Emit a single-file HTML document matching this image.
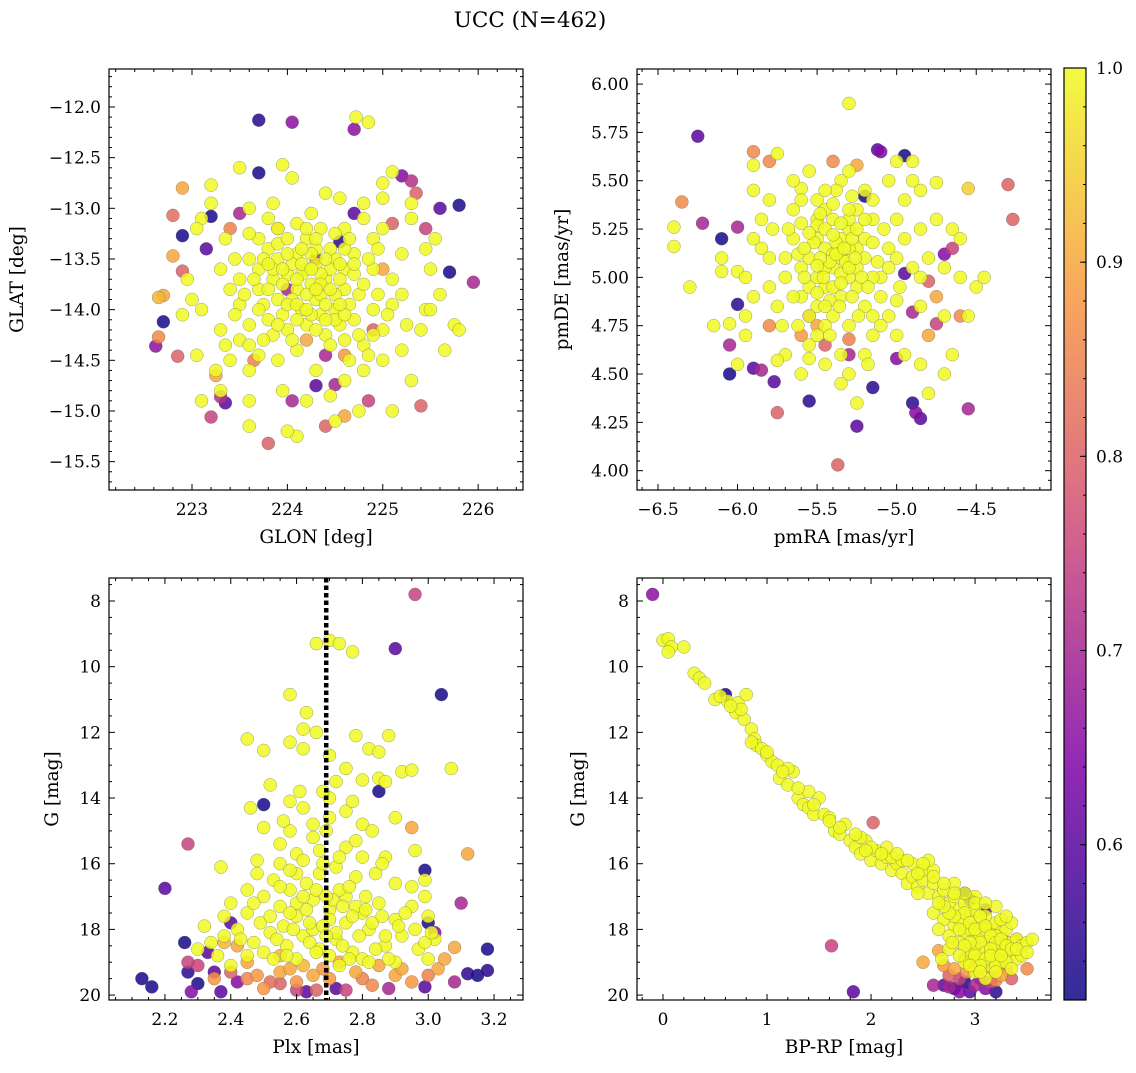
<!DOCTYPE html>
<html><head><meta charset="utf-8">
<style>
body{margin:0;background:#fff;}
svg text{font-family:"DejaVu Serif","Liberation Serif",serif;fill:#000;}
</style></head>
<body>
<svg id="fig" width="1136" height="1068" viewBox="0 0 1136 1068" xmlns="http://www.w3.org/2000/svg">
<text x="530" y="27" font-size="21.5" text-anchor="middle">UCC (N=462)</text>
</svg>
<script>
// ---- Data ----
const skyMembers = [[223.5,-12.6],[223.95,-12.57],[224.05,-12.7],[224.4,-12.85],[224.55,-12.9],[225.0,-12.9],[225.1,-12.64],[225.3,-12.95],[223.2,-12.77],[223.2,-12.95],[223.1,-13.1],[223.05,-13.2],[223.35,-13.3],[223.6,-13.0],[223.8,-13.1],[223.9,-13.2],[224.1,-13.15],[224.25,-13.05],[224.35,-13.2],[224.6,-13.2],[224.8,-13.1],[224.9,-13.3],[225.0,-13.2],[225.2,-13.45],[225.45,-13.4],[225.5,-13.6],[225.6,-13.85],[225.45,-14.0],[225.75,-14.15],[225.4,-14.2],[225.2,-14.4],[225.0,-14.5],[224.8,-14.6],[224.6,-14.7],[224.3,-14.6],[224.1,-14.4],[223.9,-14.5],[223.7,-14.45],[223.5,-14.3],[223.3,-14.2],[223.1,-14.0],[223.0,-13.9],[222.95,-13.7],[223.3,-13.6],[223.5,-13.7],[223.7,-13.6],[223.9,-13.5],[224.1,-13.45],[224.3,-13.4],[224.5,-13.5],[224.7,-13.45],[224.9,-13.6],[225.1,-13.7],[225.1,-13.95],[224.9,-14.0],[224.7,-14.1],[224.5,-14.0],[224.3,-13.9],[224.1,-13.8],[223.9,-13.9],[223.7,-13.8],[223.5,-13.95],[223.6,-14.15],[223.8,-14.1],[224.0,-14.2],[224.2,-14.15],[224.4,-14.25],[224.6,-14.3],[224.8,-14.35],[225.0,-14.2],[224.2,-13.6],[224.4,-13.7],[224.6,-13.8],[224.0,-13.65],[223.8,-13.4],[224.2,-13.3],[224.45,-13.6],[224.25,-13.75],[224.15,-14.0],[224.35,-14.05],[223.95,-14.05],[224.55,-14.15],[224.75,-13.85],[223.4,-14.5],[223.6,-14.6],[223.3,-14.8],[223.1,-14.9],[223.6,-14.9],[223.95,-14.8],[224.2,-14.9],[224.5,-15.1],[224.75,-15.0],[224.1,-15.25],[223.6,-15.15],[224.0,-15.2],[225.1,-15.0],[225.5,-14.0],[225.3,-14.7],[225.65,-14.4],[225.8,-14.2],[222.9,-14.05],[223.05,-14.45],[223.25,-14.6],[225.3,-13.1],[225.0,-12.75],[224.85,-12.15],[224.72,-12.1],[225.55,-13.3],[224.45,-14.85],[224.65,-14.5],[223.85,-12.95],[224.3,-13.55],[224.05,-13.55],[223.85,-13.7],[224.35,-13.85],[224.6,-13.6],[223.75,-13.95],[224.15,-13.65],[224.5,-13.85]];
const skyCore = [[223.85,-13.6],[223.95,-13.75],[224.05,-13.9],[224.15,-13.55],[224.25,-13.45],[224.35,-13.65],[224.45,-13.4],[224.55,-13.7],[224.65,-13.95],[224.1,-14.1],[224.0,-13.45],[223.9,-13.35],[223.8,-13.8],[223.7,-14.0],[223.75,-13.5],[224.3,-14.2],[224.4,-13.95],[224.5,-14.1],[224.2,-13.85],[224.1,-13.7],[224.0,-13.95],[224.3,-13.3],[224.4,-13.5],[224.6,-13.4],[224.7,-13.65],[224.8,-13.75],[224.85,-13.5],[223.65,-13.7],[223.6,-13.5],[223.55,-13.85],[224.25,-14.05],[224.45,-14.35],[224.05,-14.3],[223.85,-14.25],[223.75,-14.3],[224.55,-13.55],[224.35,-13.75],[224.15,-13.4],[223.95,-13.6],[224.25,-13.6],[224.45,-13.8],[224.65,-13.3],[224.95,-13.85],[225.05,-14.05],[224.9,-14.25],[224.75,-14.25],[224.2,-13.2],[224.0,-13.3],[223.7,-13.3],[223.6,-13.25],[224.5,-13.25],[224.6,-14.05],[224.4,-14.1],[223.9,-14.15],[223.8,-13.55],[224.1,-13.95],[224.3,-13.8],[224.55,-13.95],[224.7,-13.55],[224.2,-14.0],[223.4,-13.8],[223.45,-14.05],[223.35,-14.35],[225.2,-13.85],[225.25,-14.15],[224.95,-13.4],[224.8,-12.95],[223.6,-14.35],[223.45,-13.5],[224.85,-14.45]];
const skyField = [[223.7,-12.13,0.55],[224.05,-12.15,0.66],[224.7,-12.22,0.66],[222.9,-12.8,0.9],[223.2,-13.08,0.53],[222.8,-13.07,0.82],[222.9,-13.27,0.53],[223.15,-13.4,0.6],[222.8,-13.47,0.9],[222.9,-13.62,0.8],[222.65,-13.88,0.92],[222.7,-13.86,0.9],[222.7,-14.12,0.53],[222.65,-14.27,0.86],[222.62,-14.36,0.66],[222.85,-14.46,0.8],[223.25,-14.65,0.9],[223.3,-14.86,0.72],[223.35,-14.92,0.6],[223.2,-15.06,0.75],[223.8,-15.32,0.8],[223.7,-12.65,0.53],[224.55,-13.33,0.55],[224.0,-13.8,0.7],[225.2,-12.68,0.65],[225.3,-12.73,0.72],[225.35,-12.85,0.8],[225.6,-13.0,0.6],[225.8,-12.97,0.53],[225.7,-13.63,0.53],[225.95,-13.73,0.7],[225.45,-13.2,0.75],[225.1,-13.15,0.8],[224.5,-14.74,0.7],[224.3,-14.75,0.6],[224.85,-14.9,0.75],[224.6,-15.05,0.9],[224.4,-15.15,0.8],[225.4,-14.95,0.8],[224.05,-14.9,0.7],[224.7,-13.05,0.6],[224.3,-13.5,0.7],[223.5,-13.05,0.7],[224.9,-14.2,0.8],[224.4,-14.45,0.7],[223.4,-13.2,0.85],[224.2,-14.3,0.9],[223.9,-13.2,0.9],[224.6,-14.45,0.88],[223.65,-14.5,0.85],[225.0,-13.6,0.9]];

const pmMembers = [[-6.4,5.26],[-6.4,5.16],[-6.1,5.03],[-6.1,5.1],[-6.0,5.03],[-6.05,4.76],[-5.95,4.7],[-5.9,4.9],[-5.95,4.8],[-5.85,5.15],[-5.85,5.3],[-5.9,5.45],[-5.8,5.4],[-5.75,5.64],[-5.9,5.58],[-5.6,5.46],[-5.5,5.4],[-5.45,5.35],[-5.4,5.3],[-5.35,5.2],[-5.3,5.25],[-5.25,5.15],[-5.2,5.1],[-5.15,5.3],[-5.1,5.0],[-5.05,5.15],[-5.0,5.1],[-5.0,5.3],[-4.95,5.4],[-4.9,5.6],[-4.85,5.45],[-4.85,5.25],[-4.8,5.1],[-4.75,5.3],[-4.7,5.05],[-4.65,5.25],[-4.6,5.0],[-4.5,4.95],[-4.45,5.0],[-4.6,5.2],[-4.75,5.49],[-4.9,5.5],[-5.05,5.5],[-5.6,5.05],[-5.55,5.1],[-5.5,5.0],[-5.45,4.95],[-5.4,5.05],[-5.35,4.9],[-5.3,5.0],[-5.25,4.95],[-5.6,4.9],[-5.65,5.2],[-5.7,5.0],[-5.75,4.85],[-5.8,5.1],[-5.5,5.2],[-5.45,5.15],[-5.35,5.1],[-5.3,5.15],[-5.25,5.05],[-5.4,4.8],[-5.45,4.75],[-5.3,4.75],[-5.2,4.85],[-5.15,4.8],[-5.1,4.9],[-5.5,4.85],[-5.55,4.65],[-5.7,4.6],[-5.6,4.5],[-5.45,4.55],[-5.3,4.5],[-5.2,4.6],[-5.0,4.7],[-4.95,4.6],[-4.85,4.55],[-4.7,4.5],[-4.65,4.6],[-4.8,4.4],[-5.75,4.57],[-6.0,4.55],[-6.15,4.75],[-6.3,4.95],[-5.55,5.55],[-5.35,5.5],[-5.2,5.45],[-5.0,5.6],[-4.95,5.2],[-4.7,4.8],[-5.05,4.8],[-5.15,4.7],[-5.35,4.45],[-5.25,4.35],[-5.35,4.6],[-5.5,5.3],[-5.65,5.35],[-5.6,5.28],[-5.5,5.27],[-5.25,5.35],[-5.15,5.0],[-5.45,5.05],[-5.3,5.3],[-4.55,4.8],[-4.85,4.85],[-5.3,5.9],[-5.4,5.12],[-5.35,5.02],[-5.55,4.95],[-5.2,5.2],[-5.4,4.95]];
const pmCore = [[-5.42,5.08],[-5.38,5.18],[-5.32,5.08],[-5.28,5.2],[-5.48,5.1],[-5.52,5.18],[-5.45,5.25],[-5.35,5.28],[-5.4,5.38],[-5.3,5.35],[-5.25,5.25],[-5.2,5.3],[-5.22,5.0],[-5.28,4.9],[-5.35,4.97],[-5.42,4.88],[-5.5,4.92],[-5.58,5.0],[-5.62,5.12],[-5.55,5.23],[-5.48,5.33],[-5.38,5.45],[-5.28,5.42],[-5.15,5.18],[-5.12,5.08],[-5.18,4.95],[-5.45,4.85],[-5.55,4.8],[-5.65,4.9],[-5.7,5.1],[-5.68,5.25],[-5.6,5.4],[-5.45,5.45],[-5.3,5.05],[-5.38,5.12],[-5.46,5.0],[-5.33,5.15],[-5.26,5.1],[-5.4,5.22],[-5.5,5.06],[-5.58,5.15],[-5.36,4.85],[-5.24,4.8],[-5.1,4.75],[-5.62,4.75],[-5.72,4.75],[-5.8,4.95],[-5.05,5.05],[-4.98,4.95],[-5.08,5.25],[-5.15,5.4],[-5.3,5.55],[-5.65,5.5],[-5.78,5.25],[-5.9,5.2],[-5.95,5.0],[-4.9,5.05],[-4.85,5.0],[-5.0,4.88],[-5.42,4.7],[-5.5,4.7],[-5.18,4.55],[-5.55,4.58]];
const pmField = [[-6.25,5.73,0.6],[-6.35,5.39,0.86],[-6.22,5.28,0.7],[-6.0,5.26,0.7],[-6.1,5.2,0.53],[-5.9,5.65,0.86],[-5.8,5.6,0.86],[-5.4,5.6,0.86],[-5.25,5.58,0.9],[-5.1,5.65,0.65],[-5.12,5.66,0.6],[-4.95,5.63,0.53],[-4.3,5.48,0.8],[-4.27,5.3,0.8],[-4.55,5.46,0.95],[-6.0,4.86,0.55],[-6.05,4.65,0.7],[-6.05,4.5,0.53],[-5.85,4.52,0.7],[-5.9,4.53,0.6],[-5.77,4.46,0.6],[-5.75,4.3,0.8],[-5.55,4.36,0.55],[-5.37,4.03,0.8],[-5.25,4.23,0.6],[-5.15,4.43,0.55],[-5.0,4.58,0.65],[-4.9,4.35,0.55],[-4.88,4.3,0.65],[-4.85,4.27,0.6],[-4.55,4.32,0.7],[-5.2,5.42,0.53],[-5.55,4.8,0.8],[-5.3,4.6,0.7],[-4.9,4.82,0.7],[-4.75,4.76,0.75],[-4.6,4.8,0.86],[-4.8,4.7,0.9],[-4.8,4.98,0.8],[-4.95,5.02,0.6],[-4.65,5.15,0.75],[-4.7,5.12,0.65],[-4.75,4.9,0.9],[-5.8,4.75,0.86],[-5.45,4.65,0.8],[-5.5,4.75,0.9],[-5.6,4.7,0.88],[-5.3,4.68,0.85]];

const plxMembers = [[2.66,9.3],[2.7,9.2],[2.73,9.3],[2.77,9.55],[2.58,10.85],[2.63,11.4],[2.62,11.9],[2.66,12.0],[2.62,12.5],[2.58,12.3],[2.45,12.2],[2.5,12.55],[2.78,12.1],[2.82,12.5],[2.85,12.6],[2.88,12.1],[2.75,13.1],[2.72,13.5],[2.8,13.45],[2.85,13.4],[2.87,13.5],[2.92,13.2],[2.95,13.15],[3.07,13.1],[2.52,13.6],[2.46,14.3],[2.58,14.1],[2.62,14.3],[2.7,14.0],[2.75,14.4],[2.8,14.8],[2.83,15.0],[2.9,14.6],[2.5,14.9],[2.55,15.4],[2.6,15.7],[2.65,15.2],[2.69,15.0],[2.75,15.5],[2.8,15.8],[2.87,15.8],[2.96,15.6],[2.37,16.1],[2.48,16.3],[2.53,16.5],[2.58,16.8],[2.63,16.6],[2.67,16.3],[2.72,16.1],[2.78,16.4],[2.84,16.3],[2.9,16.6],[2.95,16.7],[2.99,16.5],[2.4,17.2],[2.45,17.5],[2.5,17.0],[2.55,17.3],[2.6,17.6],[2.65,17.1],[2.7,17.4],[2.75,17.0],[2.8,17.5],[2.85,17.2],[2.9,17.7],[2.95,17.3],[3.0,17.6],[2.32,17.9],[2.38,18.2],[2.42,18.0],[2.47,18.4],[2.52,18.1],[2.57,18.5],[2.62,18.2],[2.67,18.6],[2.72,18.3],[2.77,18.7],[2.82,18.0],[2.87,18.5],[2.92,18.2],[2.97,18.6],[3.02,18.3],[2.3,18.6],[2.36,18.8],[2.56,17.9],[2.65,18.0],[2.75,17.8],[2.7,17.7],[2.6,18.9],[2.8,18.9],[2.9,19.0],[2.5,18.7],[2.45,16.8],[2.55,16.0],[2.63,17.4],[2.73,16.8],[2.78,17.3],[2.68,16.0],[2.58,15.0],[2.83,17.8],[2.88,18.9],[3.0,18.9],[2.4,19.1],[2.68,17.9],[2.72,18.1],[2.6,17.2],[2.77,17.6]];
const plxCore = [[2.62,17.0],[2.66,16.8],[2.71,17.1],[2.74,17.3],[2.58,17.5],[2.64,17.8],[2.69,18.2],[2.74,18.5],[2.79,18.2],[2.84,18.6],[2.54,18.3],[2.49,17.8],[2.59,18.0],[2.64,18.4],[2.7,18.8],[2.76,18.9],[2.82,19.0],[2.57,18.8],[2.52,17.6],[2.47,17.2],[2.55,16.7],[2.6,16.3],[2.76,16.7],[2.81,17.0],[2.86,17.6],[2.91,17.9],[2.96,18.0],[2.99,18.4],[2.43,18.3],[2.38,17.6],[2.34,18.4],[2.66,18.7],[2.73,19.1],[2.62,15.9],[2.67,15.6],[2.73,15.8],[2.65,14.8],[2.7,14.6],[2.77,14.1],[2.61,13.8],[2.56,14.7],[2.86,16.0],[2.93,17.5],[3.01,18.1],[2.69,17.0],[2.53,18.9],[2.45,18.8],[2.87,18.2],[2.81,17.4],[2.58,16.2],[2.48,15.9],[2.7,12.7],[2.68,13.8],[2.78,15.3],[2.99,17.0]];
const plxField = [[2.13,19.5,0.53],[2.16,19.75,0.53],[2.2,16.75,0.6],[2.27,15.4,0.75],[2.26,18.4,0.53],[2.27,19.0,0.75],[2.27,19.3,0.55],[2.28,19.9,0.65],[2.3,19.65,0.53],[2.33,18.7,0.6],[2.35,19.3,0.6],[2.37,19.9,0.6],[2.4,17.8,0.6],[2.42,19.6,0.65],[2.45,19.5,0.86],[2.5,14.2,0.53],[2.85,13.8,0.53],[2.96,7.8,0.75],[2.9,9.45,0.6],[3.04,10.85,0.53],[2.99,16.2,0.53],[3.0,17.8,0.53],[3.02,18.1,0.65],[3.1,17.2,0.7],[3.12,15.7,0.9],[3.12,19.35,0.55],[3.15,19.4,0.53],[3.18,19.25,0.55],[3.18,18.6,0.53],[3.08,18.55,0.9],[3.08,19.6,0.7],[2.99,19.75,0.6],[2.72,19.8,0.6],[2.75,19.85,0.75],[2.66,19.85,0.8],[2.63,19.9,0.6],[2.55,19.65,0.8],[2.95,14.9,0.9],[2.35,19.5,0.88],[2.45,19.0,0.9],[2.5,19.8,0.88],[2.55,19.3,0.9],[2.6,19.6,0.87],[2.65,19.4,0.9],[2.7,19.5,0.88],[2.78,19.3,0.9],[2.83,19.7,0.86],[2.9,19.4,0.9],[2.95,19.6,0.88],[3.03,19.2,0.9],[2.55,18.8,0.92],[2.42,18.5,0.9],[2.85,19.1,0.9],[2.62,19.1,0.92],[2.73,19.0,0.9],[3.05,18.9,0.9],[2.38,18.4,0.92],[2.48,19.4,0.88],[2.58,19.2,0.9],[2.68,19.2,0.88],[2.8,19.5,0.85],[2.92,19.2,0.9],[2.3,19.1,0.75],[2.52,19.6,0.82],[2.88,19.8,0.7],[3.0,19.4,0.85],[2.4,19.3,0.8],[2.6,19.85,0.75]];

const cmdMembers = [[0.0,9.2],[0.05,9.15],[0.08,9.4],[0.05,9.55],[0.2,9.4],[0.3,10.2],[0.35,10.35],[0.4,10.5],[0.5,11.0],[0.62,11.05],[0.72,11.1],[0.8,10.85],[0.7,11.4],[0.78,11.6],[0.85,11.9],[0.88,12.2],[0.9,12.4],[0.95,12.5],[1.0,12.7],[1.05,12.9],[1.1,13.0],[1.12,13.4],[1.2,13.6],[1.25,13.2],[1.3,14.0],[1.35,14.2],[1.4,14.3],[1.45,14.5],[1.55,14.5],[1.6,14.6],[1.65,15.0],[1.7,15.1],[1.75,14.8],[1.8,15.3],[1.85,15.5],[1.9,15.7],[1.95,15.3],[2.0,15.9],[2.05,15.6],[2.1,16.0],[2.15,15.8],[2.2,16.2],[2.25,16.0],[2.3,16.3],[2.35,16.6],[2.4,16.4],[2.45,16.7],[2.5,16.5],[2.55,16.9],[2.6,16.6],[2.65,17.0],[2.7,16.8],[2.75,17.2],[2.8,17.0],[2.85,17.4],[2.9,17.2],[2.95,17.6],[3.0,17.4],[3.05,17.8],[3.1,17.6],[3.15,18.0],[3.2,17.8],[3.25,18.1],[3.3,18.0],[3.35,18.4],[3.4,18.3],[3.45,18.5],[3.5,18.4],[2.6,17.5],[2.7,17.7],[2.8,17.9],[2.9,18.1],[3.0,18.3],[3.1,18.5],[3.2,18.7],[2.85,18.4],[2.95,18.7],[3.05,18.9],[3.15,19.1],[3.25,19.0],[2.75,18.2],[2.65,18.0],[2.9,19.0],[3.0,19.3],[3.1,19.5],[3.3,18.8],[3.4,18.9],[2.5,16.2],[2.4,16.0],[2.2,15.8],[2.0,15.5],[1.9,15.2],[1.5,14.0],[1.4,13.8],[1.2,13.1],[2.3,15.9],[2.6,16.2],[2.8,16.6],[3.0,17.0],[3.2,17.3],[3.35,17.8],[2.95,18.0],[3.05,18.2],[2.85,17.7],[3.15,18.3],[3.25,18.6],[3.45,18.8],[2.55,15.9],[2.45,16.9],[2.75,18.6],[2.68,18.9],[3.1,18.0],[2.9,17.5],[3.0,18.6],[3.2,18.2]];
const cmdCore = [[2.95,17.8],[3.0,18.0],[3.05,17.6],[3.1,17.9],[3.15,18.2],[3.2,18.4],[3.25,18.3],[3.3,18.5],[3.35,18.6],[3.05,18.4],[3.1,18.7],[3.15,18.6],[3.2,18.9],[3.0,18.8],[2.95,18.4],[2.9,18.5],[2.85,18.0],[2.8,17.6],[2.75,17.5],[2.7,17.3],[2.65,17.2],[3.1,18.9],[3.2,19.1],[3.3,19.0],[3.35,19.2],[3.05,19.1],[2.95,19.1],[3.15,18.8],[3.25,18.8],[3.4,18.6],[3.5,18.7],[3.55,18.3],[3.0,17.2],[3.1,17.2],[3.25,17.7],[3.3,17.6],[2.9,16.9],[2.8,16.9],[2.7,16.6],[2.6,16.4],[2.5,16.0],[2.45,16.3],[2.35,15.9],[2.25,15.7],[2.15,15.5],[2.1,15.7],[1.95,15.6],[1.85,15.1],[1.7,14.9],[1.6,14.7],[1.45,14.2],[1.3,13.7],[1.15,13.2],[1.0,12.6],[0.85,12.3],[0.75,11.3],[0.65,11.2],[0.55,10.9],[2.85,18.8],[3.05,19.3],[3.2,19.3],[2.78,18.4]];
const cmdField = [[2.7,19.7,0.6],[2.8,19.8,0.55],[2.9,19.6,0.53],[2.95,19.9,0.6],[3.0,19.7,0.7],[3.1,19.8,0.65],[3.15,19.6,0.75],[3.2,19.9,0.55],[2.85,19.9,0.65],[3.05,19.5,0.7],[2.75,19.4,0.8],[2.98,19.2,0.86],[3.25,19.4,0.9],[3.3,19.2,0.86],[3.0,19.0,0.9],[2.9,16.9,0.53],[2.95,17.1,0.55],[3.1,17.4,0.6],[3.5,19.2,0.86],[3.35,19.5,0.8],[2.6,19.7,0.7],[2.5,19.0,0.9],[2.65,18.65,0.9],[1.62,18.5,0.75],[1.83,19.9,0.6],[2.02,14.75,0.8],[-0.1,7.8,0.66],[0.6,10.85,0.53],[2.75,19.75,0.7],[2.85,19.5,0.75],[2.92,19.3,0.88],[3.2,19.55,0.85],[2.8,19.2,0.9],[3.4,18.3,0.88],[3.3,18.4,0.9],[2.9,18.9,0.9],[3.15,19.2,0.88],[2.7,19.1,0.88]];

const plxMedian = 2.69;
const cbarTicks = [0.6,0.7,0.8,0.9,1.0];

// ---- Drawing ----
const NS="http://www.w3.org/2000/svg";
const svg=document.getElementById('fig');
function mk(tag,attrs,parent){const e=document.createElementNS(NS,tag);for(const k in attrs)e.setAttribute(k,attrs[k]);(parent||svg).appendChild(e);return e;}
const stops=[[0,[13,8,135]],[0.25,[126,3,168]],[0.5,[204,71,120]],[0.75,[248,149,64]],[1,[240,249,33]]];
function plasma(t){t=Math.max(0,Math.min(1,t));for(let i=1;i<stops.length;i++){if(t<=stops[i][0]){const a=stops[i-1],b=stops[i],f=(t-a[0])/(b[0]-a[0]);return 'rgb('+a[1].map((v,j)=>Math.round(v+(b[1][j]-v)*f)).join(',')+')';}}return 'rgb(240,249,33)';}
const VMIN=0.52,VMAX=1.0;
function col(p){return plasma((p-VMIN)/(VMAX-VMIN));}
const TICKFS=17, LABFS=18.5;

function fmt(v,d){return v.toFixed(d);}
function panel(cfg){
  const g=mk('g',{});
  
  
  const {x0,x1,y0,y1,xmin,xmax,ymin,ymax}=cfg;
  const sx=v=>x0+(v-xmin)/(xmax-xmin)*(x1-x0);
  const sy=v=>cfg.invert? y0+(v-ymin)/(ymax-ymin)*(y1-y0) : y1-(v-ymin)/(ymax-ymin)*(y1-y0);
  const clip='c'+cfg.name;
  const cp=mk('clipPath',{id:clip},g);mk('rect',{x:x0,y:y0,width:x1-x0,height:y1-y0},cp);
  const pts=cfg.field.map(d=>[d[0],d[1],d[2]]).concat(cfg.members.map(d=>[d[0],d[1],1.0]));
  pts.sort((a,b)=>a[2]-b[2]);
  const pg=mk('g',{'clip-path':'url(#'+clip+')'},g);
  pts.forEach(d=>{
    const c=mk('circle',{cx:sx(d[0]),cy:sy(d[1]),r:6.5,fill:col(d[2]),'fill-opacity':0.85,stroke:'#555','stroke-width':0.4,'stroke-opacity':0.7},pg);
    
    
  });
  if(cfg.vline!==undefined){
    const l=mk('line',{x1:sx(cfg.vline),x2:sx(cfg.vline),y1:y0,y2:y1,stroke:'#000','stroke-width':4.5,'stroke-dasharray':'4.5,3'},g);
    
    
  }
  mk('rect',{x:x0,y:y0,width:x1-x0,height:y1-y0,fill:'none',stroke:'#000','stroke-width':1.2},g);
  const eps=1e-9;
  for(let v=Math.ceil(xmin/cfg.xminor-eps)*cfg.xminor;v<=xmax+eps;v+=cfg.xminor){
    const X=sx(v);const isMaj=Math.abs(v/cfg.xmajor-Math.round(v/cfg.xmajor))<1e-6;const L=isMaj?6:3;
    mk('line',{x1:X,x2:X,y1:y1,y2:y1-L,stroke:'#000','stroke-width':1},g);
    mk('line',{x1:X,x2:X,y1:y0,y2:y0+L,stroke:'#000','stroke-width':1},g);
    if(isMaj){const t=mk('text',{x:X,y:y1+25,'font-size':TICKFS,'text-anchor':'middle'},g);t.textContent=fmt(v,cfg.xdec).replace('-','\u2212');
      }
  }
  for(let v=Math.ceil(ymin/cfg.yminor-eps)*cfg.yminor;v<=ymax+eps;v+=cfg.yminor){
    const Y=sy(v);const isMaj=Math.abs(v/cfg.ymajor-Math.round(v/cfg.ymajor))<1e-6;const L=isMaj?6:3;
    mk('line',{x1:x0,x2:x0+L,y1:Y,y2:Y,stroke:'#000','stroke-width':1},g);
    mk('line',{x1:x1,x2:x1-L,y1:Y,y2:Y,stroke:'#000','stroke-width':1},g);
    if(isMaj){const t=mk('text',{x:x0-8,y:Y+6,'font-size':TICKFS,'text-anchor':'end'},g);t.textContent=fmt(v,cfg.ydec).replace('-','\u2212');
      }
  }
  const xt=mk('text',{x:(x0+x1)/2,y:y1+53,'font-size':LABFS,'text-anchor':'middle'},g);xt.textContent=cfg.xlabel;
  
  const yx=cfg.ylx, yy=(y0+y1)/2;
  const yt=mk('text',{x:yx,y:yy,'font-size':LABFS,'text-anchor':'middle',transform:'rotate(-90 '+yx+' '+yy+')'},g);yt.textContent=cfg.ylabel;
  
}
panel({name:'sky-panel',x0:109,x1:523,y0:69,y1:490,xmin:222.13,xmax:226.47,ymin:-15.78,ymax:-11.625,xmajor:1,xminor:0.2,ymajor:0.5,yminor:0.1,xdec:0,ydec:1,xlabel:'GLON [deg]',ylabel:'GLAT [deg]',ylx:23,members:skyMembers.concat(skyCore),field:skyField});
panel({name:'pm-panel',x0:637,x1:1051,y0:69,y1:490,xmin:-6.632,xmax:-4.03,ymin:3.90,ymax:6.078,xmajor:0.5,xminor:0.1,ymajor:0.25,yminor:0.05,xdec:1,ydec:2,xlabel:'pmRA [mas/yr]',ylabel:'pmDE [mas/yr]',ylx:568,members:pmMembers.concat(pmCore),field:pmField});
panel({name:'plx-panel',x0:109,x1:523,y0:578,y1:1000,xmin:2.03,xmax:3.288,ymin:7.30,ymax:20.15,invert:true,xmajor:0.2,xminor:0.05,ymajor:2,yminor:0.5,xdec:1,ydec:0,xlabel:'Plx [mas]',ylabel:'G [mag]',ylx:58,members:plxMembers.concat(plxCore),field:plxField,vline:plxMedian});
panel({name:'cmd-panel',x0:637,x1:1051,y0:578,y1:1000,xmin:-0.25,xmax:3.73,ymin:7.30,ymax:20.15,invert:true,xmajor:1,xminor:0.2,ymajor:2,yminor:0.5,xdec:0,ydec:0,xlabel:'BP-RP [mag]',ylabel:'G [mag]',ylx:584,members:cmdMembers.concat(cmdCore),field:cmdField});

// colorbar
(function(){
  const g=mk('g',{});
  
  
  const X0=1064,X1=1086,Y0=68,Y1=1000;
  const grad=mk('linearGradient',{id:'cbg',x1:0,y1:1,x2:0,y2:0},g);
  for(let i=0;i<=20;i++){mk('stop',{offset:i/20,'stop-color':plasma(i/20),'stop-opacity':0.85},grad);}
  mk('rect',{x:X0,y:Y0,width:X1-X0,height:Y1-Y0,fill:'url(#cbg)',stroke:'#000','stroke-width':1.2},g);
  const sy=v=>Y1-(v-VMIN)/(VMAX-VMIN)*(Y1-Y0);
  for(let v=0.54;v<=1.0001;v+=0.02){const Y=sy(v);mk('line',{x1:X1,x2:X1-3,y1:Y,y2:Y,stroke:'#000'},g);}
  cbarTicks.forEach(v=>{const Y=sy(v);mk('line',{x1:X1,x2:X1-6,y1:Y,y2:Y,stroke:'#000'},g);
    const t=mk('text',{x:X1+10,y:Y+6,'font-size':TICKFS},g);t.textContent=v.toFixed(1);
    });
})();
</script>
</body></html>
